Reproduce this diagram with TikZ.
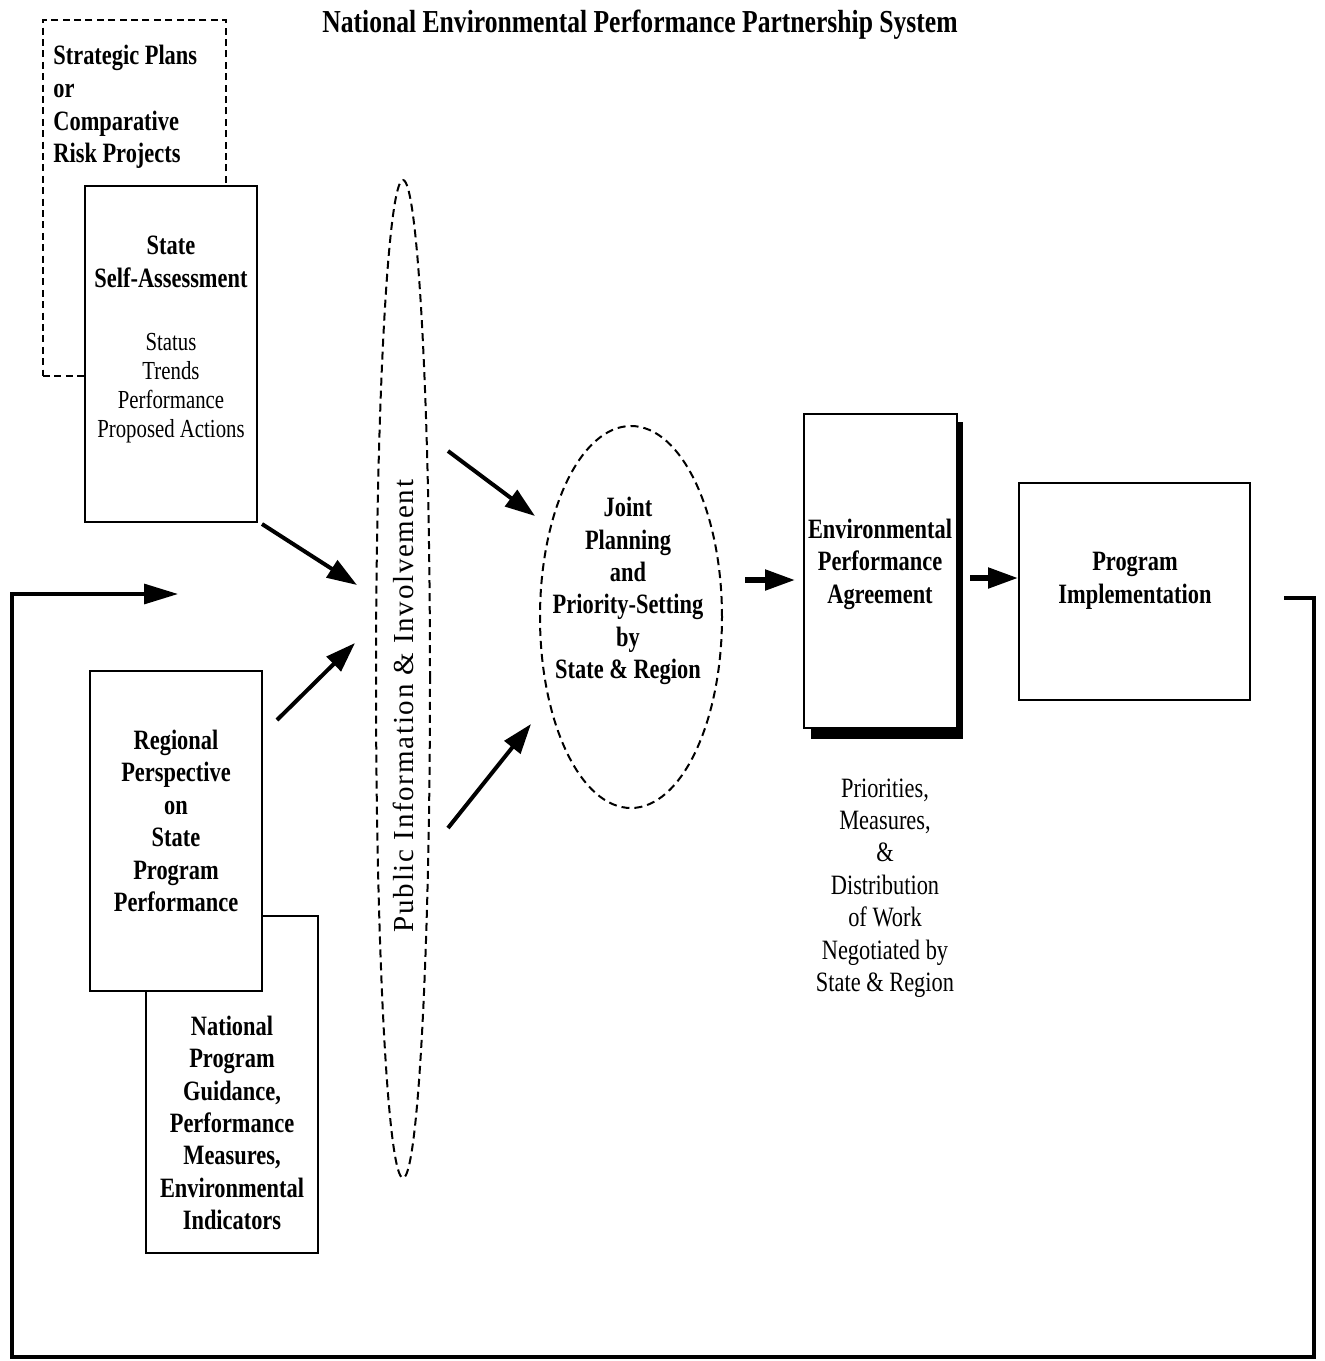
\documentclass[tikz,border=0pt]{standalone}
\usepackage{fontspec}
\setmainfont{Liberation Serif}[FakeStretch=0.8]
\newfontfamily\pubfont{Liberation Serif}[LetterSpace=6]
\usetikzlibrary{arrows.meta,shapes.geometric,fit}
\begin{document}
\begin{tikzpicture}[x=0.5pt,y=-0.5pt,
  box/.style={draw, line width=1pt, fill=white, inner sep=0pt},
  dashbox/.style={draw, line width=1pt, dash pattern=on 3.5pt off 2.2pt, inner sep=0pt},
  arr/.style={line width=2pt, -{Triangle[length=15pt,width=10pt]}},
  fbline/.style={line width=1.6pt},
  bt/.style={align=center, font=\fontsize{14}{16.2}\selectfont\bfseries, inner sep=0pt},
  nt/.style={align=center, font=\fontsize{13}{14.6}\selectfont, inner sep=0pt},
]
\fill[white] (0,0) rectangle (1324,1361);
\useasboundingbox (0,0) rectangle (1324,1361);

% title
\node[font=\fontsize{16}{18}\selectfont\bfseries, inner sep=0pt] (title) at (640,25) {National Environmental Performance Partnership System};

% strategic plans (dashed)
\node[dashbox, fit={(43,20) (226,376)}] (strat) {};
\node[bt, align=left, anchor=west, font=\fontsize{14}{16.3}\selectfont\bfseries] (strattxt) at (53,107) {Strategic Plans\\or\\Comparative\\Risk Projects};

% state self-assessment
\node[box, fit={(85,186) (257,522)}] (ssa) {};
\node[bt] (ssat) at (171,262) {State\\Self-Assessment};
\node[nt] (ssan) at (171,388) {Status\\Trends\\Performance\\Proposed Actions};

% national program guidance (behind)
\node[box, fit={(146,916) (318,1253)}] (nat) {};
\node[bt] (natt) at (232,1123) {National\\Program\\Guidance,\\Performance\\Measures,\\Environmental\\Indicators};

% regional perspective
\node[box, fit={(90,671) (262,991)}] (reg) {};
\node[bt] (regt) at (176,821) {Regional\\Perspective\\on\\State\\Program\\Performance};

% public information ellipse
\node[ellipse, draw, line width=1pt, dash pattern=on 4pt off 2.5pt, minimum width=27pt, minimum height=499pt, inner sep=0pt] (pub) at (403,679) {};
\node[rotate=90, font=\pubfont\fontsize{14.5}{16}\selectfont, inner sep=0pt] (pubt) at (403,706) {Public Information \& Involvement};

% joint planning ellipse
\node[ellipse, draw, line width=1pt, dash pattern=on 4pt off 2.5pt, minimum width=91pt, minimum height=191pt, inner sep=0pt] (joint) at (631,617) {};
\node[bt] (jointt) at (628,591) {Joint\\Planning\\and\\Priority-Setting\\by\\State \& Region};

% environmental performance agreement
\fill (811,422) rectangle (963,739);
\node[box, fit={(804,414) (957,728)}] (epa) {};
\node[bt] (epat) at (880,564) {Environmental\\Performance\\Agreement};

\node[align=center, font=\fontsize{14}{16.2}\selectfont, inner sep=0pt] (negt) at (885,888) {Priorities,\\Measures,\\\&\\Distribution\\of Work\\Negotiated by\\State \& Region};

% program implementation
\node[box, fit={(1019,483) (1250,700)}] (pi) {};
\node[bt] (pit) at (1135,581) {Program\\Implementation};

% arrow end coordinates
\coordinate (a1s) at (262,524); \coordinate (a1e) at (357,585);
\coordinate (a2s) at (277,720); \coordinate (a2e) at (355,643);
\coordinate (a3s) at (448,451); \coordinate (a3e) at (535,516);
\coordinate (a4s) at (448,828); \coordinate (a4e) at (531,724);
\coordinate (a5s) at (745,580); \coordinate (a5e) at (795,580);
\coordinate (a6s) at (970,578); \coordinate (a6e) at (1018,578);
\coordinate (fbs) at (1284,598); \coordinate (fbe) at (178,594);

\draw[arr] (a1s) -- (a1e);
\draw[arr] (a2s) -- (a2e);
\draw[arr] (a3s) -- (a3e);
\draw[arr] (a4s) -- (a4e);
\draw[arr, line width=2.6pt] (a5s) -- (a5e);
\draw[arr, line width=2.6pt] (a6s) -- (a6e);

% feedback loop
\draw[fbline, -{Triangle[length=17pt,width=10pt]}] (fbs) -- (1314,598) -- (1314,1357) -- (12,1357) -- (12,594) -- (fbe);
\end{tikzpicture}
\end{document}
